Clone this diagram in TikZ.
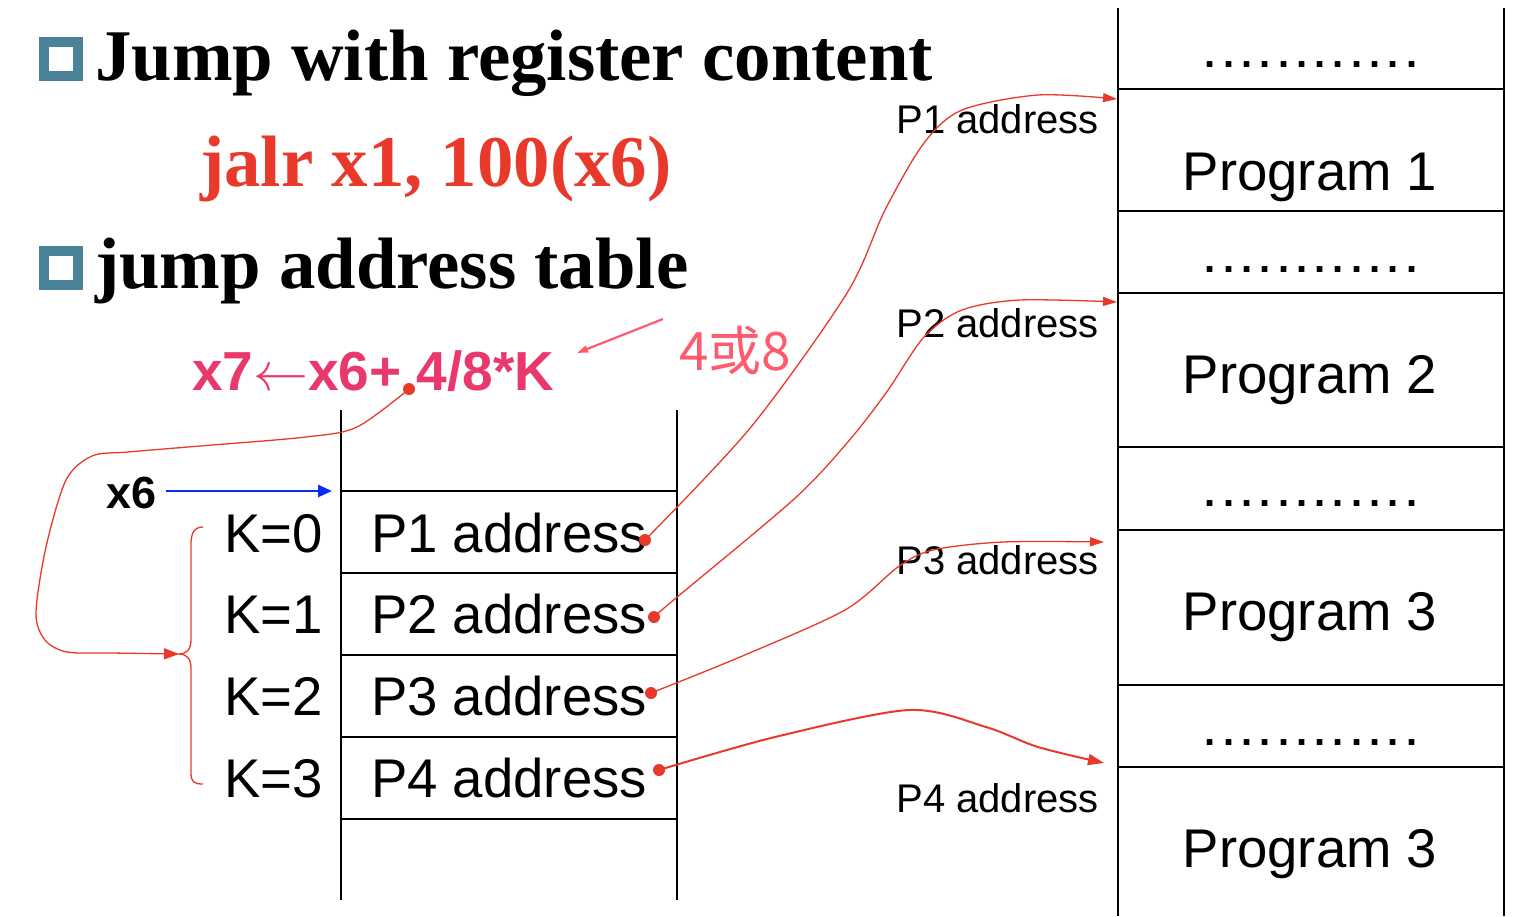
\documentclass[tikz,border=0pt]{standalone}
\usepackage{fix-cm}
\usepackage{fontspec}
\setmainfont{Liberation Serif}
\setsansfont{Liberation Sans}
\newfontfamily\cjk{Noto Sans CJK SC}
\usetikzlibrary{arrows.meta}
\definecolor{redc}{HTML}{E8392A}
\definecolor{pinkf}{HTML}{E9386B}
\definecolor{pinkl}{HTML}{FF5A6E}
\definecolor{bulletc}{HTML}{4A8299}
\definecolor{bluec}{HTML}{0A2BF5}
\tikzset{
 titletext/.style={anchor=base west, inner sep=0pt, font=\fontsize{72.8}{86}\selectfont\bfseries},
 bulletbox/.style={draw=bulletc, line width=9.5pt, minimum size=34pt, inner sep=0pt},
 memline/.style={line width=2pt, black},
 celltext/.style={inner sep=0pt, font=\sffamily\fontsize{54.5}{64}\selectfont},
 plabel/.style={anchor=base east, inner sep=0pt, font=\sffamily\fontsize{40}{48}\selectfont},
 progtext/.style={anchor=base, inner sep=0pt, font=\sffamily\fontsize{54.5}{64}\selectfont},
 dotrow/.style={anchor=base, inner sep=0pt, font=\sffamily\bfseries\fontsize{40}{48}\selectfont},
 reddot/.style={circle, fill=redc, minimum size=12pt, inner sep=0pt},
 link/.style={redc, line width=1.3pt, -{Triangle[length=14pt,width=9pt]}},
}
\newcommand{\dotsrow}{\makebox[18.3pt]{.}\makebox[18.3pt]{.}\makebox[18.3pt]{.}\makebox[18.3pt]{.}\makebox[18.3pt]{.}\makebox[18.3pt]{.}\makebox[18.3pt]{.}\makebox[18.3pt]{.}\makebox[18.3pt]{.}\makebox[18.3pt]{.}\makebox[18.3pt]{.}\makebox[18.3pt]{.}}
\begin{document}
\begin{tikzpicture}[x=1pt,y=-1pt]
\useasboundingbox (0,0) rectangle (1536,916);
\fill[white] (0,0) rectangle (1536,916);

% bullets and titles
\node[bulletbox] (b1) at (61,59) {};
\node[bulletbox] (b2) at (61,268) {};
\node[titletext] (t1) at (95,80) {Jump with register content};
\node[titletext, text=redc] (jalr) at (200,186) {jalr x1, 100(x6)};
\node[titletext] (t2) at (95,288) {jump address table};

% formula
\node[anchor=base west, inner sep=0pt, text=pinkf, font=\sffamily\bfseries\fontsize{55}{64}\selectfont] (form) at (192,390) {x7$\leftarrow$x6+ 4/8*K};
\node[anchor=base west, inner sep=0pt, text=pinkl, font=\cjk\fontsize{53}{60}\selectfont] (48) at (679,370) {4或8};
\coordinate (pa1) at (663,319);
\coordinate (pa2) at (577,353);
\draw[pinkl, line width=2.2pt, -{Triangle[length=11pt,width=7pt]}] (pa1) -- (pa2);

% memory column
\draw[memline] (1118,8) -- (1118,916);
\draw[memline] (1504,8) -- (1504,916);
\foreach \yy in {89,211,293,447,530,685,767} \draw[memline] (1118,\yy) -- (1504,\yy);
\node[dotrow] (dr1) at (1311,67) {\dotsrow};
\node[dotrow] (dr2) at (1311,272) {\dotsrow};
\node[dotrow] (dr3) at (1311,506) {\dotsrow};
\node[dotrow] (dr4) at (1311,745) {\dotsrow};
\node[progtext] (pg1) at (1310,190) {Program 1};
\node[progtext] (pg2) at (1310,393) {Program 2};
\node[progtext] (pg3) at (1310,630) {Program 3};
\node[progtext] (pg4) at (1310,867) {Program 3};

\node[plabel] (l1) at (1099,133) {P1 address};
\node[plabel] (l2) at (1099,337) {P2 address};
\node[plabel] (l3) at (1099,574) {P3 address};
\node[plabel] (l4) at (1099,812) {P4 address};

% table
\draw[memline] (341,410) -- (341,900);
\draw[memline] (677,410) -- (677,900);
\foreach \yy in {491,573,655,737,819} \draw[memline] (341,\yy) -- (677,\yy);
\node[celltext, anchor=base west] (c1) at (371,552) {P1 address};
\node[celltext, anchor=base west] (c2) at (371,633) {P2 address};
\node[celltext, anchor=base west] (c3) at (371,715) {P3 address};
\node[celltext, anchor=base west] (c4) at (371,797) {P4 address};
\node[celltext, anchor=base east] (k0) at (323,552) {K=0};
\node[celltext, anchor=base east] (k1) at (323,633) {K=1};
\node[celltext, anchor=base east] (k2) at (323,715) {K=2};
\node[celltext, anchor=base east] (k3) at (323,797) {K=3};

% x6 pointer
\node[anchor=base west, inner sep=0pt, font=\sffamily\bfseries\fontsize{45}{54}\selectfont] (x6) at (106,508) {x6};
\coordinate (xs) at (166,491);
\coordinate (xt) at (332,491);
\draw[bluec, line width=2.5pt, -{Triangle[length=14pt,width=12pt]}] (xs) -- (xt);

% dots
\node[reddot] (d1) at (645,540) {};
\node[reddot] (d2) at (654,617) {};
\node[reddot] (d3) at (651,693) {};
\node[reddot] (d4) at (659,770) {};
\node[reddot] (fd) at (409,389) {};

% targets
\coordinate (a1) at (1117,99);
\coordinate (a2) at (1117,302);
\coordinate (a3) at (1104,542);
\coordinate (a4) at (1104,763);

\draw[link] plot[smooth, tension=0.5] coordinates {(d1.center) (751,427) (847,293) (885,210) (924,143) (962,110) (1038,95) (a1)};
\draw[link] plot[smooth, tension=0.5] coordinates {(d2.center) (670,603) (793,500) (847,443) (886,393) (924,337) (962,310) (1020,300) (a2)};
\draw[link] plot[smooth, tension=0.5] coordinates {(d3.center) (740,657) (845,610) (898,567) (933,550) (1003,542) (a3)};
\draw[link, line width=2pt, -{Triangle[length=16pt,width=11pt]}] plot[smooth, tension=0.5] coordinates {(d4.center) (775,737) (909,710) (986,727) (1038,747) (a4)};

% brace
\coordinate (bt) at (179,654);
\draw[redc, line width=1.3pt] (203,527) .. controls (193,527) and (191,535) .. (191,545) -- (191,640) .. controls (191,650) and (186,654) .. (bt) .. controls (186,654) and (191,658) .. (191,668) -- (191,773) .. controls (191,782) and (194,784) .. (203,784);

% formula to brace
\draw[redc, line width=1.3pt, -{Triangle[length=15pt,width=11pt]}] plot[smooth, tension=0.5] coordinates {(fd.center) (357,427) (306,437) (200,446) (128,452) (92,456) (66,480) (46,547) (36,613) (45,640) (67,652) (112,653) (bt)};
\end{tikzpicture}
\end{document}
